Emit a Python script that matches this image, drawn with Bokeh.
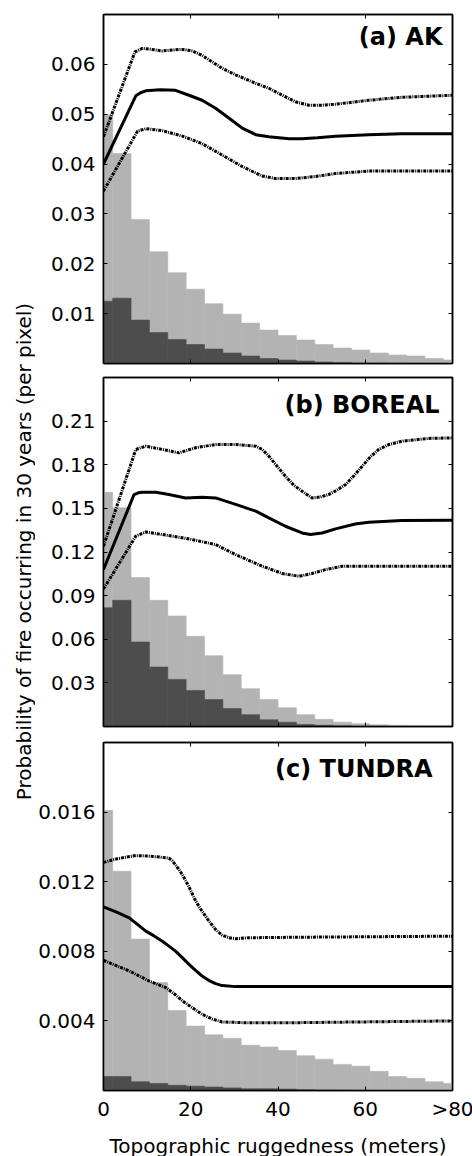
import math
from bokeh.plotting import figure
from bokeh.models import Range1d, FixedTicker, LinearAxis, Label
from bokeh.layouts import row, column
from bokeh.embed import file_html
from bokeh.resources import INLINE

# ---------------- data ----------------
bin_centers = [0.0, 4.21, 8.42, 12.63, 16.84, 21.05, 25.26, 29.47, 33.68, 37.89,
               42.11, 46.32, 50.53, 54.74, 58.95, 63.16, 67.37, 71.58, 75.79, 80.0]
bin_width = 4.21

x_ticks = [0, 20, 40, 60, 80]
x_tick_labels = ["0", "20", "40", "60", ">80"]

# (a) AK
ak_all = [0.0499, 0.0421, 0.0289, 0.0224, 0.0182, 0.0149, 0.0120, 0.0099, 0.0081, 0.0067,
          0.0056, 0.0047, 0.0038, 0.0031, 0.0027, 0.0021, 0.0017, 0.0015, 0.0010, 0.0007]
ak_burn = [0.0125, 0.0131, 0.0087, 0.0062, 0.0048, 0.0038, 0.0029, 0.0021, 0.0015, 0.0010,
           0.0007, 0.0005, 0.0003, 0.0002, 0.0001, 0.0001, 0.00005, 0.00003, 0.00002, 0.00001]
ak_mean_x = [0, 7.4, 8.5, 9.7, 13.0, 16.5, 19.6, 22.6, 25.7, 28.8, 31.8, 34.9, 37.9, 42.5,
             45.5, 49.0, 53.2, 60.8, 68.4, 80]
ak_mean = [0.0400, 0.0537, 0.0543, 0.0547, 0.0549, 0.0548, 0.0538, 0.0528, 0.0512, 0.0492,
           0.0472, 0.0459, 0.0455, 0.0451, 0.0451, 0.0453, 0.0456, 0.0459, 0.0461, 0.0461]
ak_up_x = [0, 7.2, 8.9, 11, 13.5, 16, 18.1, 20.4, 22.6, 24.2, 27.2, 30.3, 34.9, 37.9, 41.0,
           44.0, 47.1, 50.1, 53.2, 57, 60.8, 68.4, 80]
ak_up = [0.0455, 0.0625, 0.0632, 0.0630, 0.0627, 0.0629, 0.0630, 0.0627, 0.0618, 0.0609,
         0.0592, 0.0579, 0.0562, 0.0552, 0.0538, 0.0525, 0.0518, 0.0518, 0.0520, 0.0524,
         0.0528, 0.0534, 0.0538]
ak_lo_x = [0, 7.8, 9.7, 13.5, 18.1, 22.6, 27.2, 31.8, 36.4, 39.4, 44.0, 48.5, 53.2, 60.8, 80]
ak_lo = [0.0346, 0.0466, 0.0471, 0.0467, 0.0456, 0.0441, 0.0418, 0.0395, 0.0376, 0.0371,
         0.0371, 0.0375, 0.0381, 0.0386, 0.0386]
ak_yticks = [0.01, 0.02, 0.03, 0.04, 0.05, 0.06]
ak_ytick_labels = ["0.01", "0.02", "0.03", "0.04", "0.05", "0.06"]

# (b) BOREAL
bor_all = [0.1611, 0.1504, 0.1024, 0.0868, 0.0760, 0.0620, 0.0487, 0.0356, 0.0260, 0.0185,
           0.0129, 0.0081, 0.0049, 0.0030, 0.0019, 0.0012, 0.0008, 0.0005, 0.0003, 0.0002]
bor_burn = [0.0817, 0.0868, 0.0581, 0.0409, 0.0324, 0.0248, 0.0185, 0.0123, 0.0081, 0.0046,
            0.0030, 0.0014, 0.0008, 0.0005, 0.0002, 0.0001, 0.0, 0.0, 0.0, 0.0]
bor_mean_x = [0, 7.0, 8.0, 8.9, 12.0, 15.0, 18.8, 22.6, 25.7, 30.3, 34.9, 37.9, 41.7, 45.5,
              47.4, 50.1, 53.2, 57.7, 60.8, 68.4, 80]
bor_mean = [0.108, 0.1595, 0.1607, 0.1611, 0.1611, 0.1595, 0.1572, 0.1577, 0.1572, 0.1527,
            0.1481, 0.1435, 0.1377, 0.1331, 0.1320, 0.1331, 0.1359, 0.1393, 0.1405, 0.1416, 0.1419]
bor_up_x = [0, 7.4, 9.7, 12.7, 17.3, 21.1, 25.7, 30.3, 34.9, 36.4, 37.9, 39.8, 41.7, 43.6,
            45.5, 47.8, 49.7, 51.6, 53.5, 55.5, 57.4, 59.3, 61.2, 63.1, 65.5, 68.4, 74.5, 80]
bor_up = [0.124, 0.1905, 0.1928, 0.1910, 0.1882, 0.1917, 0.1939, 0.1939, 0.1928, 0.1905,
          0.1859, 0.1790, 0.1721, 0.1660, 0.1618, 0.1572, 0.1578, 0.1595, 0.1625, 0.1664,
          0.1725, 0.1790, 0.1855, 0.1905, 0.1940, 0.1962, 0.1981, 0.1985]
bor_lo_x = [0, 7.4, 9.7, 13.5, 19.6, 25.7, 30.3, 36.4, 41.0, 44.8, 47.8, 50.9, 54.7, 60.8, 80]
bor_lo = [0.0945, 0.1309, 0.1338, 0.1320, 0.1290, 0.1251, 0.1182, 0.1102, 0.1052, 0.1033,
          0.1052, 0.1079, 0.1102, 0.1102, 0.1102]
bor_yticks = [0.03, 0.06, 0.09, 0.12, 0.15, 0.18, 0.21]
bor_ytick_labels = ["0.03", "0.06", "0.09", "0.12", "0.15", "0.18", "0.21"]

# (c) TUNDRA
tun_all = [0.0161, 0.0126, 0.0087, 0.0062, 0.0046, 0.0037, 0.0032, 0.0030, 0.0026, 0.0025,
           0.0023, 0.0020, 0.0018, 0.0015, 0.0014, 0.0011, 0.0008, 0.0007, 0.0005, 0.0004]
tun_burn = [0.0008, 0.0008, 0.0005, 0.0004, 0.0003, 0.00025, 0.0002, 0.00015, 0.0001, 0.0001,
            0.00008, 0.00005, 0.00003, 0.00002, 0.00001, 0.0, 0.0, 0.0, 0.0, 0.0]
tun_mean_x = [0, 3, 5.9, 8, 9.7, 11.5, 13.5, 15, 16.5, 18, 19.6, 21.1, 22.6, 24.2, 25.7,
              27.2, 30.3, 40, 80]
tun_mean = [0.01055, 0.01025, 0.00992, 0.00950, 0.00916, 0.00890, 0.00858, 0.00830, 0.00801,
            0.00765, 0.00725, 0.00690, 0.00658, 0.00632, 0.00614, 0.00603, 0.00597, 0.00597,
            0.00597]
tun_up_x = [0, 2.8, 5, 7.4, 10, 13.5, 15, 15.8, 17, 18.1, 19.6, 21.1, 22.6, 24.2, 25.7,
            27.2, 28.8, 30.3, 33.3, 45.5, 80]
tun_up = [0.01311, 0.0133, 0.0134, 0.0135, 0.01348, 0.0134, 0.01335, 0.0132, 0.0128, 0.0124,
          0.0117, 0.0109, 0.0103, 0.00973, 0.00925, 0.00893, 0.00878, 0.00872, 0.00878,
          0.00881, 0.00887]
tun_lo_x = [0, 5.9, 10.5, 14.3, 16.5, 18.1, 20.4, 22.6, 25, 27.2, 31.8, 45, 80]
tun_lo = [0.00748, 0.00687, 0.00629, 0.00591, 0.0055, 0.00515, 0.00475, 0.00438, 0.0041,
          0.00394, 0.0039, 0.0039, 0.0040]
tun_yticks = [0.004, 0.008, 0.012, 0.016]
tun_ytick_labels = ["0.004", "0.008", "0.012", "0.016"]

titles = ["(a) AK", "(b) BOREAL", "(c) TUNDRA"]
y_label = "Probability of fire occurring in 30 years (per pixel)"
x_label = "Topographic ruggedness (meters)"

# ---------------- style ----------------
FONT = "DejaVu Sans"
LIGHT = "#b3b3b3"
DARK = "#4d4d4d"


def base_axis(ax, ticks):
    ax.ticker = FixedTicker(ticks=ticks)
    ax.axis_line_color = "black"
    ax.axis_line_width = 1.5
    ax.major_tick_in = 4
    ax.major_tick_out = 0
    ax.major_tick_line_color = "black"
    ax.major_tick_line_width = 1
    ax.minor_tick_line_color = None


def hide_labels(ax, ticks):
    ax.major_label_overrides = {t: "" for t in ticks}
    ax.major_label_text_font_size = "1px"
    ax.major_label_text_color = None
    ax.major_label_standoff = 0


def show_labels(ax, ticks, labels, standoff):
    ax.major_label_overrides = {t: l for t, l in zip(ticks, labels)}
    ax.major_label_text_font = FONT
    ax.major_label_text_font_size = "20px"
    ax.major_label_text_color = "black"
    ax.major_label_standoff = standoff


def make_panel(ymax, yticks, ylabels, allv, burn, mx, my, ux, uy, lx, ly, title,
               fheight, top, bottom, title_dx, title_dy, bottom_labels=False):
    p = figure(frame_width=349, frame_height=fheight, x_range=Range1d(0, 80),
               y_range=Range1d(0, ymax), toolbar_location=None, output_backend="svg",
               min_border_left=66, min_border_right=22, min_border_top=top,
               min_border_bottom=bottom, background_fill_color="white",
               border_fill_color="white")
    p.outline_line_color = "black"
    p.outline_line_width = 1.5
    p.grid.visible = False
    p.vbar(x=bin_centers, top=allv, width=bin_width, fill_color=LIGHT,
           line_color=LIGHT, line_width=0.6)
    p.vbar(x=bin_centers, top=burn, width=bin_width, fill_color=DARK,
           line_color=DARK, line_width=0.6)
    p.line(ux, uy, line_color="black", line_width=3, line_dash="3 1 1 1")
    p.line(lx, ly, line_color="black", line_width=3, line_dash="3 1 1 1")
    p.line(mx, my, line_color="black", line_width=3)

    ya = p.yaxis[0]
    base_axis(ya, yticks)
    show_labels(ya, yticks, ylabels, 8)
    xa = p.xaxis[0]
    base_axis(xa, x_ticks)

    ra = LinearAxis()
    base_axis(ra, yticks)
    hide_labels(ra, yticks)
    p.add_layout(ra, "right")
    ta = LinearAxis()
    base_axis(ta, x_ticks)
    hide_labels(ta, x_ticks)
    p.add_layout(ta, "above")

    p.add_layout(Label(x=80, y=ymax, text=title, text_align="right", text_baseline="top",
                       x_offset=title_dx, y_offset=title_dy, text_font=FONT,
                       text_font_size="24px", text_font_style="bold", text_color="black"))

    if bottom_labels:
        show_labels(xa, x_ticks, x_tick_labels, 6)
        xa.axis_label = x_label
        xa.axis_label_text_font = FONT
        xa.axis_label_text_font_size = "20px"
        xa.axis_label_text_font_style = "normal"
        xa.axis_label_text_color = "black"
        xa.axis_label_standoff = 10
    else:
        hide_labels(xa, x_ticks)
    return p


p1 = make_panel(0.07, ak_yticks, ak_ytick_labels, ak_all, ak_burn, ak_mean_x, ak_mean,
                ak_up_x, ak_up, ak_lo_x, ak_lo, titles[0], 349, 14, 7, -10, -8)
p2 = make_panel(0.24, bor_yticks, bor_ytick_labels, bor_all, bor_burn, bor_mean_x, bor_mean,
                bor_up_x, bor_up, bor_lo_x, bor_lo, titles[1], 349, 7, 8, -13, -13)
p3 = make_panel(0.02, tun_yticks, tun_ytick_labels, tun_all, tun_burn, tun_mean_x, tun_mean,
                tun_up_x, tun_up, tun_lo_x, tun_lo, titles[2], 348, 8, 66, -20, -12,
                bottom_labels=True)

lab = figure(width=35, height=1156, x_range=Range1d(0, 35), y_range=Range1d(0, 1156),
             x_axis_type=None, y_axis_type=None, toolbar_location=None,
             output_backend="svg", min_border=0, outline_line_color=None)
lab.grid.visible = False
lab.add_layout(Label(x=23, y=605, text=y_label, angle=math.pi / 2, text_align="center",
                     text_baseline="middle", text_font=FONT, text_font_size="20px",
                     text_color="black"))

layout = row(lab, column(p1, p2, p3))
open("out.html", "w").write(file_html(layout, INLINE))
